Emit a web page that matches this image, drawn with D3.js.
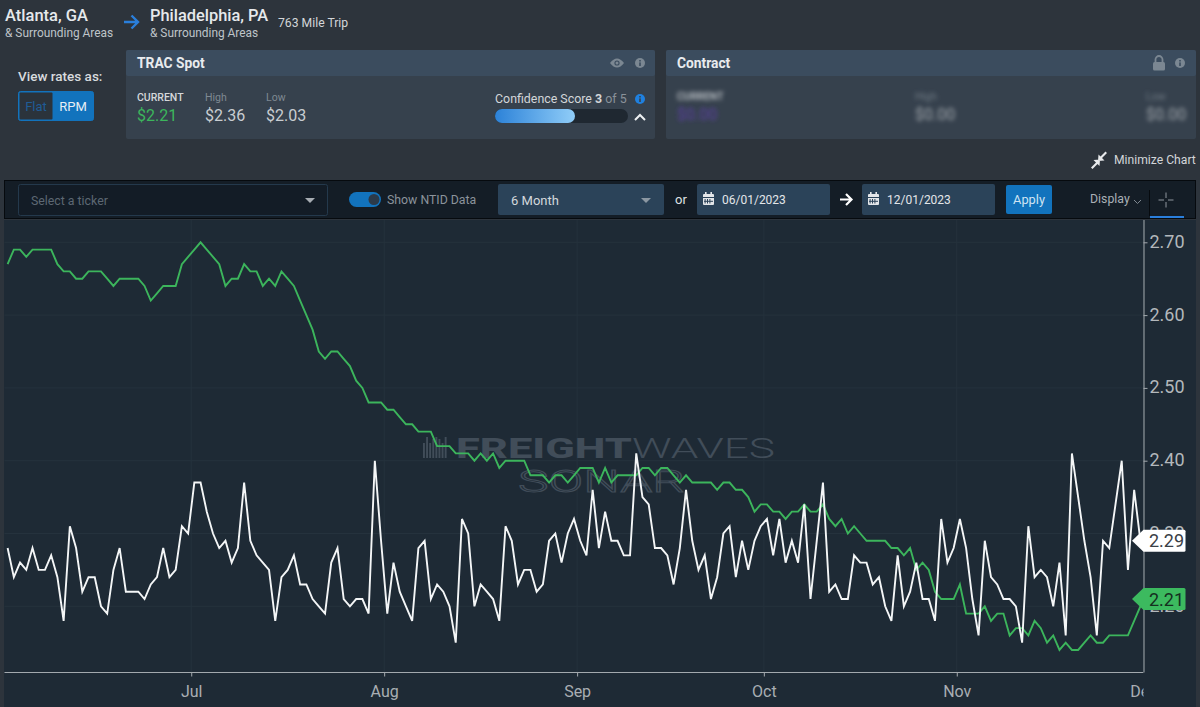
<!DOCTYPE html>
<html>
<head>
<meta charset="utf-8">
<script src="https://cdn.jsdelivr.net/npm/d3@7/dist/d3.min.js"></script>
<style>
html,body{margin:0;padding:0;background:#2d343c;overflow:hidden}
svg{display:block}
text{font-family:Roboto,"Liberation Sans",sans-serif}
</style>
</head>
<body>
<svg id="c" width="1200" height="707"></svg>
<script>
// ---- data ----
const startDate = "2023-06-01";
const endDate = "2023-12-01";
const spotRate = [2.67,2.69,2.69,2.68,2.69,2.69,2.69,2.69,2.67,2.66,2.66,2.65,2.65,2.66,2.66,2.66,2.65,2.64,2.65,2.65,2.65,2.65,2.64,2.62,2.63,2.64,2.64,2.64,2.67,2.68,
2.69,2.70,2.69,2.68,2.67,2.64,2.65,2.65,2.67,2.66,2.66,2.64,2.65,2.64,2.66,2.65,2.64,2.62,2.60,2.58,2.55,2.54,2.55,2.55,2.54,2.53,2.51,2.50,2.48,2.48,2.48,
2.47,2.47,2.46,2.45,2.45,2.44,2.44,2.44,2.42,2.42,2.42,2.41,2.41,2.41,2.40,2.41,2.40,2.41,2.39,2.40,2.40,2.40,2.40,2.38,2.38,2.38,2.37,2.38,2.38,2.37,2.38,
2.39,2.39,2.39,2.37,2.39,2.37,2.38,2.38,2.38,2.38,2.39,2.39,2.38,2.39,2.39,2.38,2.37,2.38,2.37,2.37,2.37,2.37,2.36,2.37,2.37,2.36,2.36,2.35,2.33,2.34,
2.34,2.33,2.33,2.32,2.33,2.33,2.34,2.33,2.33,2.34,2.32,2.31,2.32,2.30,2.31,2.30,2.29,2.29,2.29,2.29,2.28,2.28,2.27,2.28,2.25,2.26,2.25,2.22,2.21,2.21,2.21,2.23,2.19,
2.19,2.19,2.20,2.18,2.19,2.19,2.16,2.17,2.17,2.16,2.18,2.17,2.15,2.16,2.14,2.15,2.14,2.14,2.15,2.16,2.15,2.15,2.16,2.16,2.16,2.16,2.18,2.20,2.21];
const ntidRate = [2.28,2.24,2.26,2.25,2.28,2.25,2.25,2.27,2.24,2.18,2.31,2.28,2.22,2.24,2.24,2.20,2.19,2.25,2.28,2.22,2.22,2.22,2.21,2.23,2.24,2.28,2.24,2.25,2.31,2.30,
2.37,2.37,2.33,2.30,2.28,2.29,2.26,2.28,2.37,2.29,2.27,2.26,2.25,2.18,2.24,2.25,2.27,2.23,2.23,2.21,2.20,2.19,2.26,2.28,2.21,2.20,2.21,2.21,2.19,2.40,2.29,
2.19,2.26,2.22,2.20,2.18,2.28,2.29,2.21,2.23,2.22,2.20,2.15,2.32,2.30,2.20,2.23,2.22,2.21,2.18,2.31,2.29,2.23,2.25,2.25,2.22,2.23,2.29,2.30,2.26,2.30,2.32,
2.29,2.27,2.36,2.28,2.33,2.29,2.29,2.27,2.27,2.41,2.35,2.34,2.28,2.28,2.27,2.23,2.28,2.36,2.29,2.25,2.27,2.21,2.24,2.30,2.31,2.24,2.29,2.25,2.29,2.31,
2.32,2.27,2.32,2.26,2.29,2.26,2.34,2.21,2.29,2.37,2.22,2.23,2.21,2.21,2.27,2.26,2.26,2.23,2.24,2.20,2.18,2.27,2.20,2.22,2.26,2.21,2.21,2.18,2.32,2.26,2.28,2.32,2.28,
2.21,2.16,2.29,2.24,2.23,2.21,2.21,2.20,2.15,2.31,2.24,2.25,2.24,2.20,2.26,2.16,2.41,2.35,2.29,2.24,2.16,2.29,2.28,2.34,2.40,2.25,2.36,2.29];
const yTicks = [2.20,2.30,2.40,2.50,2.60,2.70];
const xTickDates = ["2023-07-01","2023-08-01","2023-09-01","2023-10-01","2023-11-01","2023-12-01"];
const xTickLabels = ["Jul","Aug","Sep","Oct","Nov","Dec"];
const currentNtid = 2.29, currentSpot = 2.21;

// ---- helpers ----
const svg = d3.select("#c");
const T = (g,x,y,s,size,fill,o={}) => g.append("text").attr("x",x).attr("y",y).text(s)
  .attr("font-size",size).attr("fill",fill)
  .attr("font-weight",o.w||400).attr("text-anchor",o.a||"start")
  .attr("font-family",o.f||null).attr("filter",o.filter||null);
const R = (g,x,y,w,h,fill,r=0,stroke=null) => g.append("rect").attr("x",x).attr("y",y).attr("width",w).attr("height",h)
  .attr("fill",fill).attr("rx",r).attr("stroke",stroke);
const defs = svg.append("defs");
defs.append("filter").attr("id","blur").attr("x","-20%").attr("y","-40%").attr("width","140%").attr("height","180%")
  .append("feGaussianBlur").attr("stdDeviation",2);
const grad = defs.append("linearGradient").attr("id","conf");
grad.append("stop").attr("offset","0").attr("stop-color","#2c82d8");
grad.append("stop").attr("offset","1").attr("stop-color","#90cdf8");
defs.append("clipPath").attr("id","xclip").append("rect").attr("x",0).attr("y",672).attr("width",1143.5).attr("height",35);
defs.append("clipPath").attr("id","plot").append("rect").attr("x",4.5).attr("y",220).attr("width",1139).attr("height",453);

const ui = svg.append("g");
R(ui,0,0,1200,707,"#2d343c");

// ---- route header ----
T(ui,5,21,"Atlanta, GA",16.5,"#e6e9ec",{w:500});
T(ui,5,37,"& Surrounding Areas",11.9,"#bfc4c9");
ui.append("path").attr("d","M124 22H138M131.5 15.5L138 22L131.5 28.5").attr("fill","none").attr("stroke","#2a7fdc").attr("stroke-width",2.4);
T(ui,150,21,"Philadelphia, PA",16.4,"#e6e9ec",{w:500});
T(ui,150,37,"& Surrounding Areas",11.9,"#bfc4c9");
T(ui,278,27,"763 Mile Trip",12.2,"#d3d6d9");

// ---- view toggle ----
T(ui,18,81,"View rates as:",13.5,"#d8dbde",{w:500});
R(ui,18.5,91.5,75,29,"#1273bd",2,"#1273bd");
R(ui,19.5,92.5,33,27,"#2b333b",1);
T(ui,36,111,"Flat",13,"#1f5c96",{a:"middle"});
T(ui,73,111,"RPM",13,"#e6eef5",{a:"middle"});

// ---- panels ----
function panel(x,w,title){
  R(ui,x,50,w,89,"#36414d",2);
  R(ui,x,50,w,26,"#3b4c5e",2);
  T(ui,x+11,68,title,13.8,"#e8ebee",{w:700});
}
function info(x,y,col,tc){
  ui.append("circle").attr("cx",x).attr("cy",y).attr("r",5).attr("fill",col);
  R(ui,x-0.8,y-0.6,1.6,3.6,tc);
  R(ui,x-0.8,y-3,1.6,1.5,tc);
}
panel(126,529,"TRAC Spot");
panel(666,530,"Contract");
T(ui,137,101,"CURRENT",10.5,"#d5d8db",{w:500});
T(ui,137,121,"$2.21",16,"#3cb55c");
T(ui,205,101,"High",10.5,"#7f8992");
T(ui,205,121,"$2.36",16,"#c9cdd1");
T(ui,266,101,"Low",10.5,"#7f8992");
T(ui,266,121,"$2.03",16,"#c9cdd1");
// eye + info icons
ui.append("path").attr("d","M610 63Q617 54 624 63Q617 72 610 63Z").attr("fill","#7b8792");
ui.append("circle").attr("cx",617).attr("cy",63).attr("r",2.6).attr("fill","#3b4c5e");
ui.append("circle").attr("cx",617).attr("cy",63).attr("r",1.5).attr("fill","#7b8792");
info(640,63,"#7b8792","#3b4c5e");
const conf = T(ui,495,103,"Confidence Score ",12.4,"#d3d6d9");
conf.append("tspan").text("3").attr("font-weight",700);
conf.append("tspan").text(" of 5").attr("fill","#8a929a");
info(640,99,"#1f80df","#36414d");
R(ui,495,109,133,14,"#1f2831",7);
R(ui,495,109,80,14,"url(#conf)",7);
ui.append("path").attr("d","M635 120L640 115L645 120").attr("fill","none").attr("stroke","#eef1f3").attr("stroke-width",2);
// contract (blurred in the original)
T(ui,677,100,"CURRENT",10.5,"#c9cdd1",{w:500,filter:"url(#blur)"});
T(ui,677,120,"$0.00",16,"#5b3fa6",{filter:"url(#blur)"});
T(ui,915,100,"High",10.5,"#6f7a84",{filter:"url(#blur)"});
T(ui,915,120,"$0.00",16,"#a2a8ae",{filter:"url(#blur)"});
T(ui,1146,100,"Low",10.5,"#6f7a84",{filter:"url(#blur)"});
T(ui,1146,120,"$0.00",16,"#a2a8ae",{filter:"url(#blur)"});
R(ui,1153,62,12,8.5,"#7b8792",1.5);
ui.append("path").attr("d","M1155.500 62V59.500A3.500 3.500 0 0 1 1162.500 59.500V62").attr("fill","none").attr("stroke","#7b8792").attr("stroke-width",1.8);
info(1180,63,"#7b8792","#3b4c5e");

// ---- minimize ----
ui.append("path").attr("d","M1091 167.500L1096 162.500L1093.500 160L1100 159.500L1099.500 166L1097.500 164L1092.500 169ZM1107 153L1102 158L1104.500 160.500L1098 161L1098.500 154.500L1100.500 156.500L1105.500 151.500Z")
  .attr("fill","#e8eaec");
T(ui,1114,164,"Minimize Chart",12.15,"#d3d6d9");

// ---- chart background + toolbar ----
R(ui,4,220,1192,487,"#1e2a35");
R(ui,4.5,180.5,1191,38,"#141d26",0,"#060a0e");
R(ui,18.5,184.5,309,31,"#131c26",2,"#24394c");
T(ui,31,205,"Select a ticker",12.3,"#5d6873");
ui.append("path").attr("d","M305 198H315L310 203Z").attr("fill","#a7adb3");
R(ui,349,192,32,15,"#1273bd",7.5);
ui.append("circle").attr("cx",374).attr("cy",199.500).attr("r",5.500).attr("fill","#2c3a49");
T(ui,387,204,"Show NTID Data",12.3,"#8b939b");
R(ui,498,184,166,31,"#2b4359",2);
T(ui,511,205,"6 Month",13,"#d3d8dc");
ui.append("path").attr("d","M641 198H651L646 203Z").attr("fill","#8b97a2");
T(ui,675,204,"or",13,"#dfe2e5");
function dateBox(x,w,s){
  R(ui,x,184,w,31,"#2b4359",2);
  R(ui,x+6,194,11,11,"#e3e6e9",1);
  R(ui,x+6,197,11,1,"#2b4359");
  R(ui,x+8,192,1.6,3,"#e3e6e9");
  R(ui,x+13.4,192,1.6,3,"#e3e6e9");
  d3.range(3).forEach(i=>{ R(ui,x+9+i*2.4-1.4,199,1,4.5,"#2b4359"); });
  R(ui,x+7,200.800,9,1,"#2b4359");
  T(ui,x+25,204,s,12,"#e3e6e9");
}
dateBox(697,133,"06/01/2023");
dateBox(862,133,"12/01/2023");
ui.append("path").attr("d","M840 199.500H851M846 194L851.500 199.500L846 205").attr("fill","none").attr("stroke","#fff").attr("stroke-width",2.2);
R(ui,1006,185,46,29,"#1273bd",2);
T(ui,1029,204,"Apply",12.8,"#cfe3f3",{a:"middle"});
T(ui,1090,203,"Display",12.3,"#a9b0b6");
ui.append("path").attr("d","M1134 200L1137.500 203.500L1141 200").attr("fill","none").attr("stroke","#7f8890").attr("stroke-width",1);
R(ui,1149,190,1,26,"#060a0e");
ui.append("path").attr("d","M1166 192.500V198M1166 202V207.500M1158.500 200H1164M1168 200H1173.500").attr("stroke","#8f979e").attr("stroke-width",1);
R(ui,1150,216,34,2,"#2a7fdc");

// ---- scales ----
const parse = d3.utcParse("%Y-%m-%d");
const t0 = parse(startDate), t1 = parse(endDate);
const x = d3.scaleUtc().domain([t0,t1]).range([4.5,1143.5]);
const y = d3.scaleLinear().domain([2.2,2.7]).range([606.3,242.3]);
const pointDate = i => d3.utcHour.offset(d3.utcDay.offset(t0,i),12);
const xTicks = xTickDates.map(parse);

const chart = svg.append("g");

// grid
chart.append("g").selectAll("line").data(yTicks).join("line")
  .attr("x1",4.5).attr("x2",1143.5).attr("y1",d=>y(d)).attr("y2",d=>y(d)).attr("stroke","#25323d");
chart.append("g").selectAll("line").data(xTicks).join("line")
  .attr("x1",d=>x(d)).attr("x2",d=>x(d)).attr("y1",220).attr("y2",672.5).attr("stroke","#25323d");

// watermark
const wm = chart.append("g").attr("fill","#414d59");
d3.range(8).forEach(i=>{ R(wm,423+i*3.1,i%3==1?437:443-(i%2)*4,1.9,i%3==1?21:15+(i%2)*4,"#414d59"); });
T(wm,456,457.500,"FREIGHT",28,"#414d59",{w:800,f:"'Open Sans',Roboto,sans-serif"}).attr("textLength",176).attr("lengthAdjust","spacingAndGlyphs");
T(wm,632,457.500,"WAVES",28,"#414d59",{w:300,f:"'Open Sans',Roboto,sans-serif"}).attr("textLength",143).attr("lengthAdjust","spacingAndGlyphs");
T(wm,518,492,"SONAR",31,"none",{w:300,f:"'Open Sans',Roboto,sans-serif"}).attr("stroke","#414d59").attr("stroke-width",1).attr("textLength",167).attr("lengthAdjust","spacingAndGlyphs");

// lines
const line = d3.line().x((d,i)=>x(pointDate(i))).y(d=>y(d));
const lines = chart.append("g").attr("clip-path","url(#plot)").attr("fill","none").attr("stroke-linejoin","miter");
lines.append("path").datum(spotRate).attr("d",line).attr("stroke","#3cb55c").attr("stroke-width",1.9);
lines.append("path").datum(ntidRate).attr("d",line).attr("stroke","#f4f6f7").attr("stroke-width",1.9);

// axes
const yAxis = chart.append("g").attr("transform","translate(1143.5,0)")
  .call(d3.axisRight(y).tickValues(yTicks).tickFormat(d3.format(".2f")).tickSize(4).tickPadding(2));
yAxis.select(".domain").attr("d","M0.5,220V672.5").attr("stroke","#a3a9ae");
yAxis.selectAll(".tick line").attr("stroke","#a3a9ae");
yAxis.selectAll("text").attr("font-family","'Liberation Sans',Arial,sans-serif").attr("font-size",18).attr("fill","#b3b8bc").attr("dy","0.28em");

const xAxis = chart.append("g").attr("transform","translate(0,672.5)").attr("clip-path",null)
  .call(d3.axisBottom(x).tickValues(xTicks).tickFormat((d,i)=>xTickLabels[i]).tickSize(4).tickPadding(9));
xAxis.select(".domain").attr("d","M4.5,0H1143.500").attr("stroke","#a3a9ae");
xAxis.selectAll(".tick line").attr("stroke","#a3a9ae");
xAxis.selectAll("text").attr("font-family","'Liberation Sans',Arial,sans-serif").attr("font-size",16).attr("fill","#a9aeb3");
const clipWrap = chart.append("g").attr("clip-path","url(#xclip)");
clipWrap.node().appendChild(xAxis.node());
xAxis.attr("transform","translate(0,672.5)");
xAxis.selectAll(".tick").each(function(d){ if(+d===+t1) d3.select(this).select("line").remove(); });

// current value flags
function flag(v,fill,tc){
  const yy = y(v);
  const g = chart.append("g").attr("transform",`translate(0,${yy})`);
  g.append("path").attr("d","M1132 0L1143.500 -11H1184Q1185.500 -11 1185.500 -9.500V9.500Q1185.500 11 1184 11H1143.500Z").attr("fill",fill);
  T(g,1149,6.500,v.toFixed(2),18,tc,{f:"'Liberation Sans',Arial,sans-serif"});
}
flag(currentNtid,"#ffffff","#3a4046");
flag(currentSpot,"#3cba5f","#15301f");
</script>
</body>
</html>
